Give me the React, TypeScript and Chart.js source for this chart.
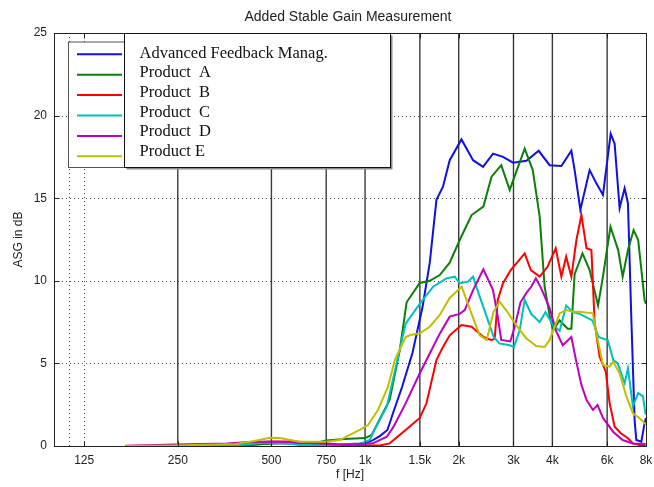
import React, { useEffect, useRef } from 'react';
import { Chart, registerables } from 'chart.js';

Chart.register(...registerables);

const TITLE = 'Added Stable Gain Measurement';
const X_TITLE = 'f [Hz]';
const Y_TITLE = 'ASG in dB';

const TICK_FREQS = [125, 250, 500, 750, 1000, 1500, 2000, 3000, 4000, 6000, 8000];
const TICK_LABELS = ['125', '250', '500', '750', '1k', '1.5k', '2k', '3k', '4k', '6k', '8k'];
const SOLID_X = [250, 500, 750, 1000, 1500, 2000, 3000, 4000, 6000];
const DOTTED_X = [112, 125];
const Y_TICKS = [0, 5, 10, 15, 20, 25];
const Y_DOTTED = [5, 10, 15, 20];

const SERIES_NAMES = ['Advanced Feedback Manag.', 'Product  A', 'Product  B', 'Product  C', 'Product  D', 'Product E'];
const SERIES_COLORS = ['#1010e0', '#0a800a', '#ff0000', '#00bfbf', '#bf00bf', '#bfbf00'];

const BLUE_FREQ = [170, 245, 395, 470, 515, 570, 660, 829, 961, 1010, 1060, 1115, 1180, 1230, 1315, 1420, 1530, 1614, 1696, 1780, 1871, 2041, 2224, 2395, 2578, 2776, 2990, 3302, 3615, 3920, 4276, 4604, 4717, 4921, 5271, 5540, 5817, 6160, 6342, 6581, 6829, 7000, 7180, 7353, 7446, 7730, 7918, 8000];
const BLUE_DB = [0, 0, 0.03, 0.12, 0.18, 0.15, 0.06, 0.09, 0.15, 0.2, 0.36, 0.6, 0.97, 2.0, 3.57, 5.63, 8.41, 11.08, 14.9, 15.7, 17.3, 18.56, 17.3, 16.9, 17.7, 17.5, 17.15, 17.27, 17.87, 17.0, 16.95, 17.87, 16.7, 14.3, 16.7, 15.9, 15.2, 18.9, 18.3, 14.4, 15.6, 14.7, 7.6, 1.57, 0.36, 0.26, 1.4, 1.7];

const GREEN_FREQ = [170, 245, 395, 494, 570, 660, 750, 860, 1000, 1050, 1200, 1293, 1360, 1499, 1614, 1738, 1871, 2015, 2200, 2400, 2550, 2740, 2917, 3259, 3460, 3641, 3778, 3920, 4020, 4221, 4480, 4604, 4717, 5000, 5271, 5610, 5817, 6150, 6510, 6730, 7000, 7300, 7550, 7918, 8000];
const GREEN_DB = [0, 0, 0.03, 0.15, 0.18, 0.09, 0.33, 0.42, 0.48, 0.67, 2.8, 5.8, 8.7, 9.87, 10.0, 10.35, 11.1, 12.47, 13.98, 14.49, 16.3, 17.0, 15.5, 18.0, 16.7, 13.88, 9.64, 7.9, 7.0, 7.6, 7.1, 7.1, 10.4, 11.66, 10.65, 8.5, 10.25, 13.27, 11.86, 10.25, 11.86, 13.07, 12.47, 8.84, 8.6];

const RED_FREQ = [170, 245, 395, 494, 585, 713, 860, 1115, 1200, 1350, 1499, 1576, 1696, 1780, 1871, 2041, 2200, 2400, 2550, 2610, 2670, 2776, 2940, 3259, 3410, 3641, 3860, 4100, 4276, 4430, 4604, 4780, 4960, 5150, 5340, 5469, 5675, 5940, 6111, 6342, 6640, 7000, 7260, 7630, 7980];
const RED_DB = [0, 0, 0.09, 0.26, 0.27, 0.2, 0.06, 0.03, 0.16, 0.97, 1.7, 2.6, 5.2, 6.0, 6.7, 7.32, 7.22, 6.6, 6.4, 6.5, 8.84, 9.85, 10.65, 11.66, 10.65, 10.25, 10.85, 11.97, 10.25, 11.46, 10.25, 12.47, 13.98, 11.97, 11.86, 7.5, 5.4, 4.5, 2.6, 1.17, 0.77, 0.47, 0.16, 0.06, 0.03];

const CYAN_FREQ = [170, 245, 395, 470, 494, 560, 616, 800, 961, 1035, 1060, 1175, 1235, 1350, 1499, 1655, 1825, 1942, 2015, 2140, 2224, 2336, 2460, 2590, 2709, 2917, 3010, 3141, 3259, 3420, 3641, 3800, 4020, 4221, 4430, 4660, 4895, 5380, 5630, 6030, 6280, 6490, 6829, 7000, 7260, 7550, 7820, 7980];
const CYAN_DB = [0, 0, 0.06, 0.2, 0.21, 0.15, 0.06, 0.06, 0.12, 0.36, 0.8, 2.4, 4.2, 7.4, 8.6, 9.64, 10.15, 10.25, 9.85, 9.95, 10.25, 9.04, 7.83, 6.6, 6.2, 6.1, 6.0, 7.0, 8.84, 8.0, 7.5, 8.1, 7.32, 6.96, 8.5, 8.1, 8.0, 7.6, 6.6, 6.4, 5.2, 5.0, 3.8, 4.7, 2.4, 3.2, 3.0, 1.9];

const MAGENTA_FREQ = [170, 245, 360, 426, 494, 585, 713, 860, 1060, 1175, 1235, 1350, 1499, 1614, 1738, 1871, 2015, 2091, 2224, 2400, 2578, 2670, 2740, 2930, 3027, 3160, 3310, 3420, 3540, 3680, 3920, 4110, 4320, 4604, 4780, 4960, 5150, 5400, 5590, 5817, 6280, 6730, 7260, 7980];
const MAGENTA_DB = [0.01, 0.09, 0.15, 0.24, 0.27, 0.24, 0.15, 0.06, 0.16, 0.56, 1.17, 2.58, 4.4, 5.6, 6.8, 7.83, 8.0, 8.23, 9.44, 10.7, 9.44, 7.83, 6.42, 6.33, 7.22, 8.7, 9.3, 9.64, 10.15, 9.56, 8.35, 6.96, 6.1, 6.6, 5.08, 3.7, 2.8, 2.18, 2.48, 1.7, 0.85, 0.36, 0.15, 0.12];

const YELLOW_FREQ = [170, 245, 385, 440, 494, 532, 616, 750, 829, 893, 961, 1022, 1100, 1185, 1246, 1350, 1400, 1499, 1614, 1738, 1871, 2045, 2200, 2336, 2460, 2590, 2709, 2840, 3060, 3290, 3550, 3778, 3920, 4221, 4430, 4660, 4895, 5400, 5540, 5817, 6111, 6280, 6581, 6920, 7260, 7630, 7980];
const YELLOW_DB = [0, 0.03, 0.12, 0.3, 0.5, 0.48, 0.26, 0.26, 0.36, 0.67, 0.97, 1.27, 2.18, 3.59, 5.2, 6.6, 6.72, 6.82, 7.22, 7.93, 8.96, 9.64, 8.0, 6.7, 6.42, 8.14, 8.73, 8.23, 7.32, 6.54, 6.05, 6.0, 6.42, 8.03, 8.23, 8.13, 8.13, 8.03, 6.82, 4.9, 4.8, 5.1, 4.4, 3.0, 1.98, 1.68, 1.33];

const SERIES_FREQS = [BLUE_FREQ, GREEN_FREQ, RED_FREQ, CYAN_FREQ, MAGENTA_FREQ, YELLOW_FREQ];
const SERIES_DB = [BLUE_DB, GREEN_DB, RED_DB, CYAN_DB, MAGENTA_DB, YELLOW_DB];

const SANS = '"Liberation Sans", Arial, sans-serif';
const SERIF = '"Liberation Serif", "Times New Roman", serif';

const framePlugin = {
  id: 'matlabFrame',
  beforeDatasetsDraw(chart: any) {
    const { ctx, chartArea: a, scales } = chart;
    const x = scales.x;
    const y = scales.y;
    ctx.save();
    ctx.lineWidth = 1;
    ctx.strokeStyle = '#4a4a4a';
    ctx.setLineDash([1, 3]);
    for (const v of Y_DOTTED) {
      const py = Math.round(y.getPixelForValue(v)) + 0.5;
      ctx.beginPath();
      ctx.moveTo(a.left, py);
      ctx.lineTo(a.right, py);
      ctx.stroke();
    }
    for (const f of DOTTED_X) {
      const px = Math.round(x.getPixelForValue(f)) + 0.5;
      ctx.beginPath();
      ctx.moveTo(px, a.top);
      ctx.lineTo(px, a.bottom);
      ctx.stroke();
    }
    ctx.setLineDash([]);
    ctx.strokeStyle = '#3a3a3a';
    ctx.lineWidth = 1.4;
    for (const f of SOLID_X) {
      const px = x.getPixelForValue(f);
      ctx.beginPath();
      ctx.moveTo(px, a.top);
      ctx.lineTo(px, a.bottom);
      ctx.stroke();
    }
    ctx.restore();
  },
  afterDatasetsDraw(chart: any) {
    const { ctx, chartArea: a, scales } = chart;
    const x = scales.x;
    const y = scales.y;
    ctx.save();
    ctx.strokeStyle = '#222';
    ctx.lineWidth = 1;
    const L = Math.round(a.left) + 0.5;
    const T = Math.round(a.top) + 0.5;
    const R = Math.round(a.right) + 0.5;
    const B = Math.round(a.bottom) + 0.5;
    ctx.strokeRect(L, T, R - L, B - T);
    ctx.beginPath();
    for (const v of Y_TICKS) {
      const py = Math.round(y.getPixelForValue(v)) + 0.5;
      ctx.moveTo(L, py); ctx.lineTo(L + 5, py);
      ctx.moveTo(R, py); ctx.lineTo(R - 5, py);
    }
    for (const f of TICK_FREQS) {
      const px = Math.round(x.getPixelForValue(f)) + 0.5;
      ctx.moveTo(px, B); ctx.lineTo(px, B - 5);
      ctx.moveTo(px, T); ctx.lineTo(px, T + 5);
    }
    ctx.stroke();

    ctx.fillStyle = '#222';
    ctx.font = '14px ' + SANS;
    ctx.textAlign = 'center';
    ctx.textBaseline = 'middle';
    ctx.fillText(TITLE, (a.left + a.right) / 2 - 2, 17);

    const oL = a.left + 14.5, oT = a.top + 9, oR = a.left + 70.5, oB = a.top + 134.5;
    ctx.fillStyle = '#ffffff';
    ctx.fillRect(oL, oT, oR - oL, oB - oT);
    ctx.strokeStyle = '#555';
    ctx.strokeRect(oL, oT, oR - oL, oB - oT);
    const tL = a.left + 70.5, tT = a.top + 0.5, tR = a.left + 336.5, tB = a.top + 134.5;
    ctx.fillStyle = '#8a8a8a';
    ctx.fillRect(tL + 2, tT + 2, tR - tL, tB - tT);
    ctx.fillStyle = '#ffffff';
    ctx.fillRect(tL, tT, tR - tL, tB - tT);
    ctx.strokeStyle = '#111';
    ctx.strokeRect(tL, tT, tR - tL, tB - tT);
    ctx.lineWidth = 2;
    for (let i = 0; i < SERIES_NAMES.length; i++) {
      const ly = a.top + 21.3 + i * 20.4;
      ctx.strokeStyle = SERIES_COLORS[i];
      ctx.beginPath();
      ctx.moveTo(a.left + 23, ly);
      ctx.lineTo(a.left + 68, ly);
      ctx.stroke();
    }
    ctx.fillStyle = '#111';
    ctx.font = '16.5px ' + SERIF;
    ctx.textAlign = 'left';
    ctx.textBaseline = 'middle';
    for (let i = 0; i < SERIES_NAMES.length; i++) {
      ctx.fillText(SERIES_NAMES[i], a.left + 85.5, a.top + 20.5 + i * 19.6);
    }
    ctx.restore();
  },
};

export default function App() {
  const ref = useRef<HTMLCanvasElement>(null);
  useEffect(() => {
    document.body.style.margin = '0';
    const canvas = ref.current!;
    const datasets = SERIES_NAMES.map((name, i) => ({
      label: name,
      data: SERIES_FREQS[i].map((f, j) => ({ x: f, y: SERIES_DB[i][j] })),
      borderColor: SERIES_COLORS[i],
      backgroundColor: SERIES_COLORS[i],
      borderWidth: 2,
      pointRadius: 0,
      tension: 0,
      fill: false,
      order: SERIES_NAMES.length - i,
    }));
    const tickFont = { family: SANS, size: 12 };
    const chart = new Chart(canvas, {
      type: 'line',
      data: { datasets },
      options: {
        animation: false,
        responsive: false,
        devicePixelRatio: 1,
        layout: { padding: { top: 33, right: 8, left: 0, bottom: 0 } },
        plugins: {
          legend: { display: false },
          tooltip: { enabled: false },
          title: { display: false },
        },
        scales: {
          x: {
            type: 'logarithmic',
            min: 100,
            max: 8000,
            afterBuildTicks: (s: any) => {
              s.ticks = TICK_FREQS.map((v) => ({ value: v }));
            },
            afterFit: (s: any) => {
              s.height = 41;
              s.paddingLeft = 0;
              s.paddingRight = 0;
            },
            ticks: {
              autoSkip: false,
              maxRotation: 0,
              minRotation: 0,
              padding: 7,
              color: '#222',
              font: tickFont,
              callback: (v: any) => {
                const k = TICK_FREQS.indexOf(Number(v));
                return k >= 0 ? TICK_LABELS[k] : '';
              },
            },
            grid: { display: false, drawTicks: false },
            border: { display: false },
            title: { display: true, text: X_TITLE, color: '#222', font: tickFont, padding: { top: 0, bottom: 5 } },
          },
          y: {
            type: 'linear',
            min: 0,
            max: 25,
            afterBuildTicks: (s: any) => {
              s.ticks = Y_TICKS.map((v) => ({ value: v }));
            },
            afterFit: (s: any) => {
              s.width = 54;
              s.paddingTop = 0;
              s.paddingBottom = 0;
            },
            ticks: { padding: 7, color: '#222', font: tickFont },
            grid: { display: false, drawTicks: false },
            border: { display: false },
            title: { display: true, text: Y_TITLE, color: '#222', font: tickFont, padding: { top: 11, bottom: 0 } },
          },
        },
      } as any,
      plugins: [framePlugin],
    });
    return () => chart.destroy();
  }, []);
  return (
    <div style={{ width: 654, height: 487 }}>
      <canvas ref={ref} width={654} height={487} style={{ display: 'block' }} />
    </div>
  );
}
